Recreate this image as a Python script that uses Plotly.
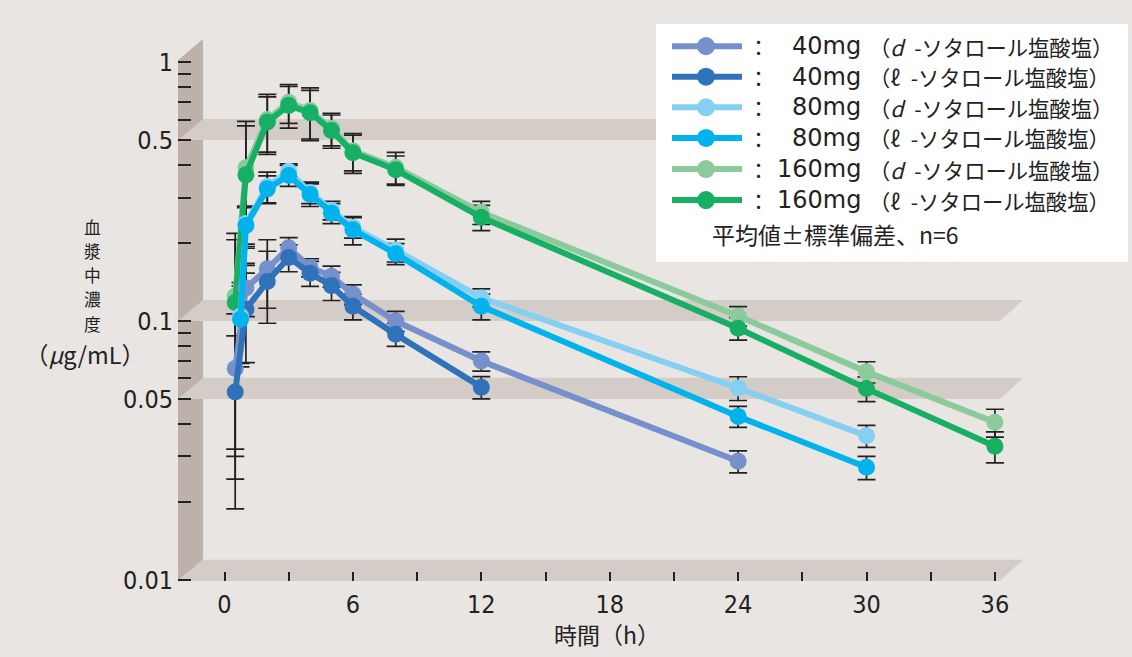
import math
import plotly.graph_objects as go

W, H = 1132, 657
H_EFF = 641  # vertical extent the page paper is shown at

# ---- data: sampling times (h), mean plasma concentration (µg/mL) and SD ----
t_40d = [0.5, 1, 2, 3, 4, 5, 6, 8, 12, 24]
c_40d = [0.0655, 0.134, 0.159, 0.192, 0.161, 0.149, 0.127, 0.100, 0.070, 0.0287]
sd_40d = [0.041, 0.030, 0.047, 0.018, 0.013, 0.014, 0.011, 0.009, 0.006, 0.0028]

t_40l = [0.5, 1, 2, 3, 4, 5, 6, 8, 12]
c_40l = [0.0532, 0.111, 0.142, 0.176, 0.153, 0.137, 0.114, 0.0888, 0.0555]
sd_40l = [0.0344, 0.042, 0.044, 0.021, 0.017, 0.017, 0.013, 0.009, 0.0055]

t_80 = [0.75, 1, 2, 3, 4, 5, 6, 8, 12, 24, 30]
c_80d = [0.1046, 0.238, 0.331, 0.379, 0.314, 0.268, 0.230, 0.188, 0.123, 0.0551, 0.036]
sd_80d = [0.036, 0.040, 0.045, 0.026, 0.030, 0.022, 0.021, 0.019, 0.010, 0.0058, 0.0035]
c_80l = [0.1015, 0.234, 0.324, 0.365, 0.308, 0.261, 0.225, 0.182, 0.114, 0.0428, 0.0272]
sd_80l = [0.035, 0.040, 0.040, 0.034, 0.031, 0.023, 0.028, 0.017, 0.013, 0.0040, 0.0028]

t_160 = [0.5, 1, 2, 3, 4, 5, 6, 8, 12, 24, 30, 36]
c_160d = [0.125, 0.391, 0.600, 0.700, 0.650, 0.555, 0.455, 0.393, 0.263, 0.1046, 0.0636, 0.0406]
sd_160d = [0.093, 0.200, 0.151, 0.120, 0.145, 0.080, 0.075, 0.055, 0.027, 0.0091, 0.006, 0.005]
c_160l = [0.118, 0.367, 0.587, 0.681, 0.638, 0.545, 0.447, 0.384, 0.2515, 0.0937, 0.0548, 0.0328]
sd_160l = [0.088, 0.200, 0.147, 0.125, 0.140, 0.080, 0.075, 0.050, 0.028, 0.0093, 0.006, 0.0045]

dose_labels = ["40mg", "40mg", "80mg", "80mg", "160mg", "160mg"]
isomer_labels = ["<i>d</i>", "ℓ", "<i>d</i>", "ℓ", "<i>d</i>", "ℓ"]
series_colors = ["#7590CA", "#3072BA", "#84CFF2", "#00B3EC", "#8BCA9B", "#17AF63"]

x_ticks = list(range(0, 37, 3))
x_ticktext = [str(v) if v % 6 == 0 else "" for v in x_ticks]
y_labelled = {1: "1", 0.5: "0.5", 0.1: "0.1", 0.05: "0.05", 0.01: "0.01"}
shelf_levels = [0.5, 0.1, 0.05]

# ---- layout geometry (pixels) ----
PL, PR, PT, PB = 178, 1023, 40, 579          # plot area
T0_PX, PX_PER_H = 224.5, 21.4                # x = 0 h position, px per hour
Y1_PX, PX_PER_DEC = 62, 258                  # y of 1 µg/mL, px per decade
DX, DY = 25, 21                              # depth offset of the 3-D box

BG = "#E9E5E2"
WALL = "#BDB1A9"
SHELF = "#D4CCC6"
INK = "#222222"
NUM_FONT = "Liberation Sans Narrow, DejaVu Sans Condensed, Roboto Condensed, Arial Narrow, Liberation Sans, sans-serif"
JP_FONT = "Noto Sans CJK JP, sans-serif"


def fx(x):
    return x / W


def fy(y):
    return 1 - y / H_EFF


def poly(points):
    return "M " + " L ".join(f"{fx(x):.5f},{fy(y):.5f}" for x, y in points) + " Z"


def ypix(v):
    return Y1_PX - PX_PER_DEC * math.log10(v)


def label(x, y, text, size, anchor="center", family=JP_FONT):
    return dict(x=fx(x), y=fy(y), xref="paper", yref="paper", text=text,
                showarrow=False, xanchor=anchor, yanchor="middle", borderpad=0,
                font=dict(family=family, size=size, color=INK))


fig = go.Figure()

series = [
    (t_40d, c_40d, sd_40d),
    (t_40l, c_40l, sd_40l),
    (t_80, c_80d, sd_80d),
    (t_80, c_80l, sd_80l),
    (t_160, c_160d, sd_160d),
    (t_160, c_160l, sd_160l),
]

# error bars underneath every curve
for t, c, s in series:
    fig.add_trace(go.Scatter(
        x=t, y=c, mode="markers",
        marker=dict(size=1, color="rgba(0,0,0,0)"),
        error_y=dict(type="data", array=s, visible=True, color=INK, thickness=1.7, width=9),
        showlegend=False, hoverinfo="skip",
    ))

# curves: 160 mg first, then 40 mg, then 80 mg on top
for i in [4, 5, 0, 1, 2, 3]:
    t, c, _ = series[i]
    fig.add_trace(go.Scatter(
        x=t, y=c, mode="lines+markers",
        line=dict(color=series_colors[i], width=6),
        marker=dict(color=series_colors[i], size=17),
        name=f"{dose_labels[i]} {isomer_labels[i]}",
        showlegend=False,
    ))

shapes = []
# back wall
shapes.append(dict(type="path", xref="paper", yref="paper", layer="below",
                   path=poly([(PL, ypix(1) - 2), (PL + DX, ypix(1) - 2 - DY),
                              (PL + DX, PB - DY), (PL, PB)]),
                   fillcolor=WALL, line=dict(width=0)))
# floor
shapes.append(dict(type="path", xref="paper", yref="paper", layer="below",
                   path=poly([(PL, PB), (PL + DX, PB - DY), (PR, PB - DY), (PR - 23, PB)]),
                   fillcolor=SHELF, line=dict(width=0)))
# shelves at the reference levels
for v in shelf_levels:
    yv = ypix(v)
    shapes.append(dict(type="path", xref="paper", yref="paper", layer="below",
                       path=poly([(PL, yv), (PL + DX, yv - DY), (PR, yv - DY), (PR - 23, yv)]),
                       fillcolor=SHELF, line=dict(width=0)))

# legend box
LG_L, LG_T, LG_R, LG_B = 656, 24, 1128, 261
shapes.append(dict(type="rect", xref="paper", yref="paper", layer="above",
                   x0=fx(LG_L), x1=fx(LG_R), y0=fy(LG_B), y1=fy(LG_T),
                   fillcolor="white", line=dict(width=0)))
row_y = [46, 76.5, 107, 137.5, 168.5, 199.5]
annotations = []
for i, ry in enumerate(row_y):
    shapes.append(dict(type="line", xref="paper", yref="paper", layer="above",
                       x0=fx(672), x1=fx(742), y0=fy(ry), y1=fy(ry),
                       line=dict(color=series_colors[i], width=6)))
    shapes.append(dict(type="circle", xref="paper", yref="paper", layer="above",
                       x0=fx(706 - 9), x1=fx(706 + 9), y0=fy(ry + 9), y1=fy(ry - 9),
                       fillcolor=series_colors[i], line=dict(width=0)))
    annotations.append(label(758, ry, "：", 21))
    annotations.append(label(862, ry, dose_labels[i], 24, "right", "DejaVu Sans, sans-serif"))
    annotations.append(label(868, ry, f"（{isomer_labels[i]}\u2002-ソタロール塩酸塩）", 21.3, "left"))
annotations.append(label(711, 233, "平均値±標準偏差、n=6", 23, "left"))

# axis titles: vertical title as stacked characters
for ch, cy in zip("血漿中濃度", [226.5, 250.5, 274.5, 298.5, 322.5]):
    annotations.append(label(92, cy, ch, 16.8))
annotations.append(label(85, 353, "（<i>μ</i>g/mL）", 23.5))
annotations.append(label(607, 632, "時間（h）", 23))

y_tickvals = [k * 10.0 ** e for e in (-2, -1) for k in range(1, 10)] + [1.0]
y_ticktext = []
for v in y_tickvals:
    key = next((k for k in y_labelled if abs(k - v) < 1e-9), None)
    y_ticktext.append(y_labelled[key] if key is not None else "")

fig.update_layout(
    width=W, height=H, autosize=False,
    margin=dict(l=0, r=0, t=0, b=0),
    paper_bgcolor=BG, plot_bgcolor="rgba(0,0,0,0)",
    shapes=shapes, annotations=annotations,
    xaxis=dict(
        domain=[fx(PL), fx(PR)],
        range=[(PL - T0_PX) / PX_PER_H, (PR - T0_PX) / PX_PER_H],
        tickvals=x_ticks, ticktext=x_ticktext,
        ticks="inside", ticklen=9, tickwidth=1.5, tickcolor=INK,
        ticklabelstandoff=6,
        showgrid=False, zeroline=False, showline=False,
        tickfont=dict(family=NUM_FONT, size=25, color=INK),
    ),
    yaxis=dict(
        type="log",
        domain=[fy(PB), fy(PT)],
        range=[-(PB - Y1_PX) / PX_PER_DEC, (Y1_PX - PT) / PX_PER_DEC],
        tickvals=y_tickvals, ticktext=y_ticktext,
        ticks="inside", ticklen=13, tickwidth=1.5, tickcolor=INK,
        ticklabelstandoff=4,
        showgrid=False, zeroline=False, showline=False,
        tickfont=dict(family=NUM_FONT, size=25, color=INK),
    ),
)

fig.write_html("out.html")
